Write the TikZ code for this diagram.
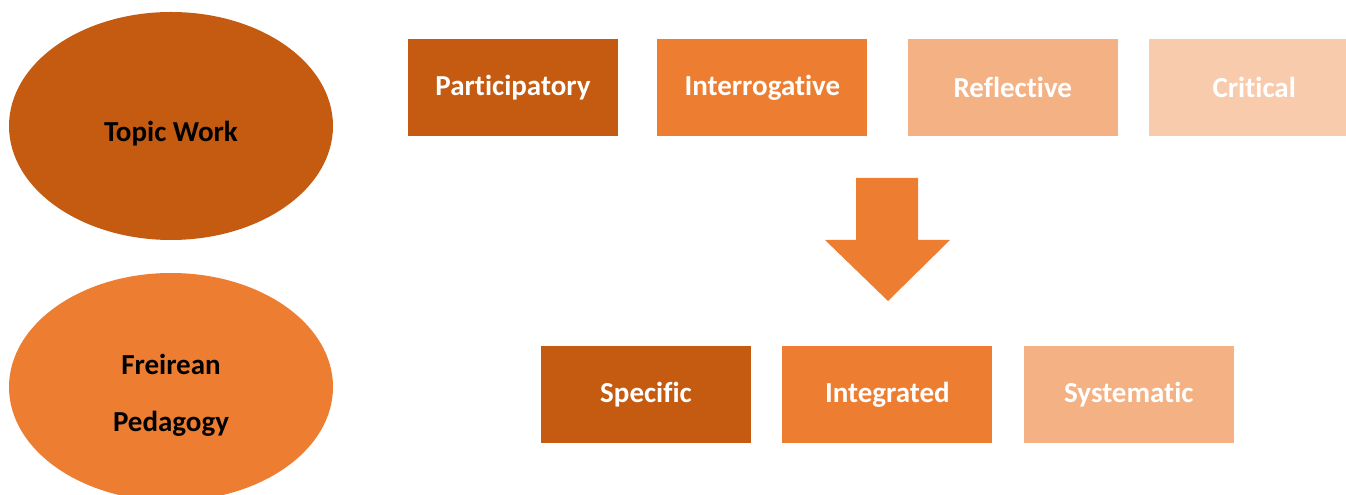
\documentclass[tikz,border=0pt]{standalone}
\usepackage{fontspec}
\setmainfont{Carlito}[Ligatures=CommonOff]
\usetikzlibrary{positioning,shapes.geometric}

\definecolor{darkorange}{HTML}{C55A11}
\definecolor{midorange}{HTML}{ED7D31}
\definecolor{lightorange}{HTML}{F4B183}
\definecolor{paleorange}{HTML}{F8CBAD}

\begin{document}
\begin{tikzpicture}[
    x=1pt, y=1pt,
    every node/.style={font=\fontsize{29}{57}\selectfont\bfseries, inner sep=0pt},
    blob/.style={ellipse, minimum width=324pt, minimum height=228pt},
    blobtext/.style={yshift=-8pt, text=black, align=center},
    tile/.style={rectangle, minimum width=210pt, minimum height=97pt, text=white}
]
\useasboundingbox (0,0) rectangle (1346,495);
\clip (0,0) rectangle (1346,495);

% left ellipses
\node[blob, fill=darkorange, label={[blobtext]center:Topic Work}] (topic) at (171,369) {};
\node[blob, fill=midorange, label={[blobtext]center:Freirean\\Pedagogy}] (freire) at (171,108) {};

% top row
\node[tile, fill=darkorange] (partic) at (513,407.5) {Participatory};
\node[tile, fill=midorange, right=39pt of partic] (interr) {Interrogative};
\node[tile, fill=lightorange, right=40pt of interr] (reflect) {Reflective};
\node[tile, fill=paleorange, right=31pt of reflect] (critic) {Critical};

% bottom row
\node[tile, fill=darkorange] (specif) at (646,100) {Specific};
\node[tile, fill=midorange, right=31pt of specif] (integr) {Integrated};
\node[tile, fill=lightorange, right=31pt of integr] (system) {Systematic};

% block arrow
\fill[midorange] (856,317) -- (918,317) -- (918,255) -- (950,255)
    -- (888,194) -- (825,255) -- (856,255) -- cycle;
\end{tikzpicture}
\end{document}
